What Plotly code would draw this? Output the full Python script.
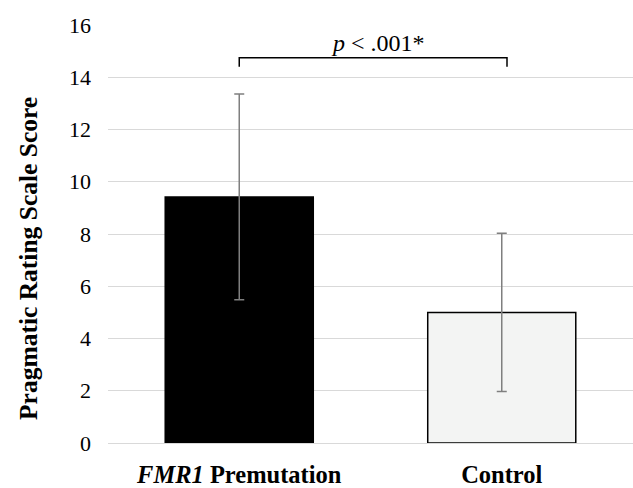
import plotly.graph_objects as go

# Data
categories = ["<b><i>FMR1</i> Premutation</b>", "<b>Control</b>"]
means = [9.42, 5.0]
errors = [3.94, 3.03]
bar_colors = ["#000000", "#f3f4f3"]
y_ticks = [0, 2, 4, 6, 8, 10, 12, 14, 16]

# significance bracket (in data units)
bracket_x = [0, 0, 1.02, 1.02]
bracket_y = [14.4, 14.75, 14.75, 14.4]
sig_label = "<i>p</i> < .001*"

FONT = "Liberation Serif"

fig = go.Figure()
fig.add_trace(go.Bar(
    x=categories,
    y=means,
    marker=dict(color=bar_colors, line=dict(color="#000000", width=1.5)),
    error_y=dict(type="data", array=errors, visible=True,
                 color="#7f7f7f", thickness=1.5, width=5),
    showlegend=False,
    hoverinfo="skip",
))

path = "M {},{} L {},{} L {},{} L {},{}".format(
    bracket_x[0], bracket_y[0], bracket_x[1], bracket_y[1],
    bracket_x[2], bracket_y[2], bracket_x[3], bracket_y[3])
fig.add_shape(type="path", path=path, xref="x", yref="y",
              line=dict(color="#000000", width=1.5))

fig.add_annotation(x=(bracket_x[1] + bracket_x[2]) / 2 + 0.02, y=bracket_y[1],
                   xref="x", yref="y", text=sig_label, showarrow=False,
                   yanchor="bottom", yshift=0,
                   font=dict(family=FONT, size=24, color="#000000"))

fig.add_annotation(x=-0.1505, y=0.4426, xref="paper", yref="paper",
                   text="<b>Pragmatic Rating Scale Score</b>", textangle=-90,
                   showarrow=False, xanchor="center", yanchor="middle",
                   font=dict(family=FONT, size=25.5, color="#000000"))

fig.update_layout(
    width=633, height=488,
    margin=dict(l=108, r=0, t=25, b=45),
    paper_bgcolor="white", plot_bgcolor="white",
    bargap=0.436,
    font=dict(family=FONT, color="#000000"),
)
fig.update_xaxes(
    showgrid=False, showline=False, zeroline=False,
    tickfont=dict(family=FONT, size=24.5, color="#000000"),
    ticklabelstandoff=14, automargin=False,
)
fig.update_yaxes(
    range=[0, 16], tickvals=y_ticks,
    showgrid=True, gridcolor="#d9d9d9", gridwidth=1,
    zeroline=True, zerolinecolor="#d9d9d9", zerolinewidth=1,
    showline=False,
    tickfont=dict(family=FONT, size=22, color="#000000"),
    ticklabelstandoff=16, automargin=False,
)

fig.write_html("out.html", config={"displayModeBar": False},
               post_script="document.body.style.margin='0';")
